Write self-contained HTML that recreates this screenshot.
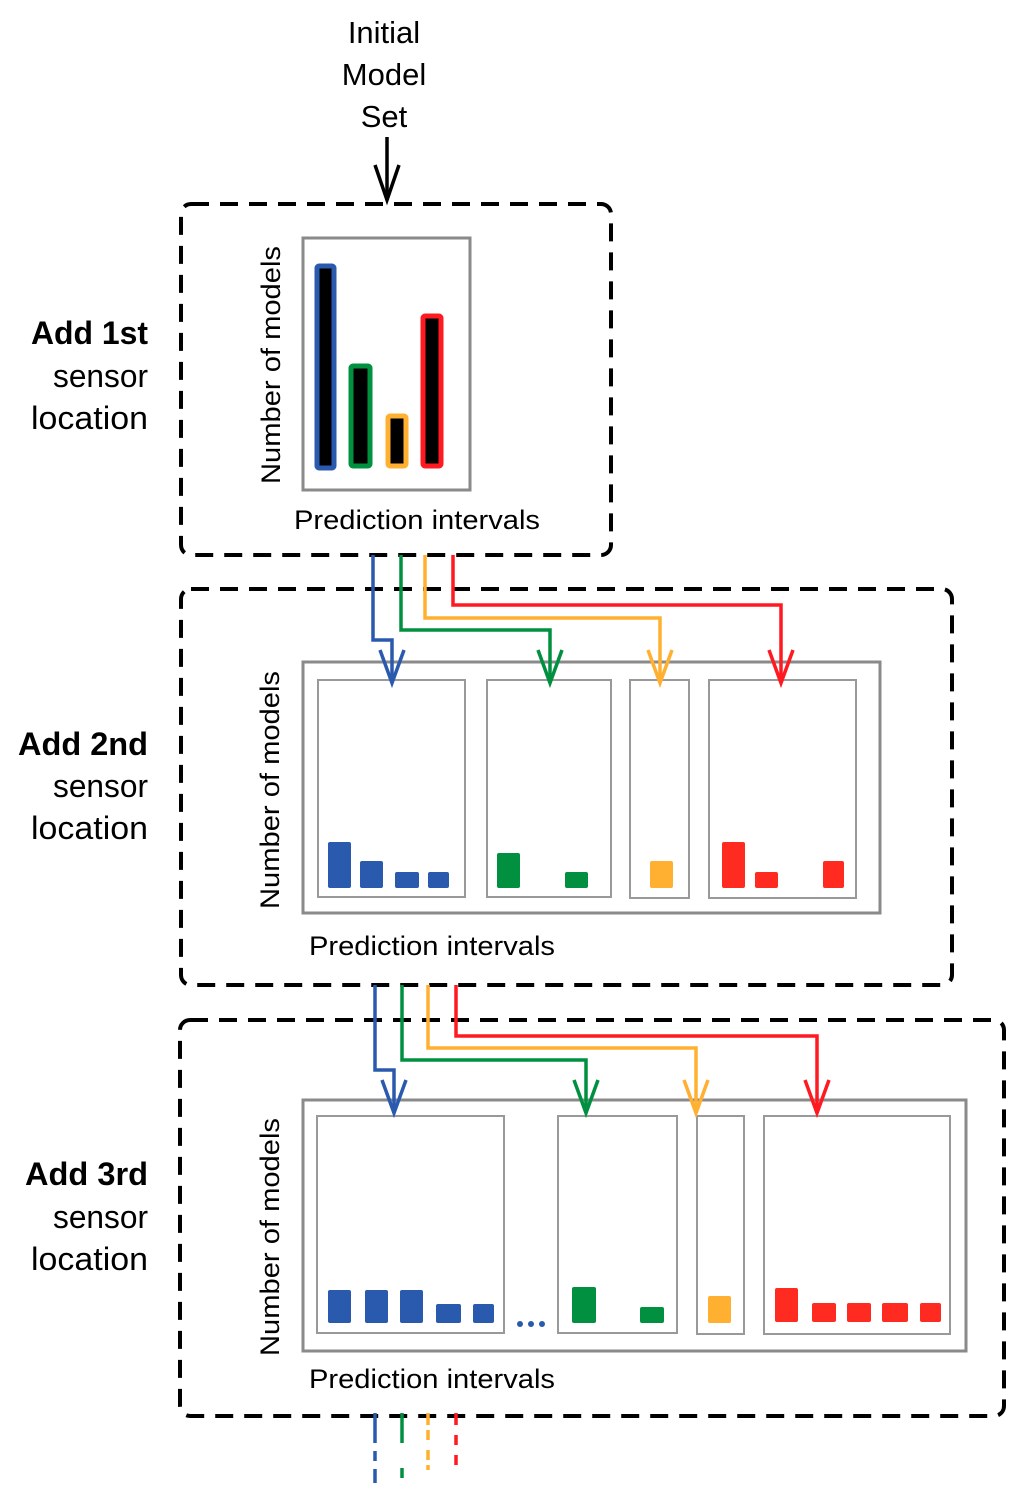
<!DOCTYPE html>
<html><head><meta charset="utf-8"><style>html,body{margin:0;padding:0;background:#fff}svg{display:block}</style></head>
<body>
<svg width="1024" height="1500" viewBox="0 0 1024 1500" xmlns="http://www.w3.org/2000/svg" font-family="Liberation Sans, DejaVu Sans, sans-serif">
<g fill="#000" font-size="31" text-anchor="middle">
<text x="384" y="43">Initial</text><text x="384" y="85">Model</text><text x="384" y="127">Set</text>
</g>
<g stroke="#000" stroke-width="3.5" fill="none">
<line x1="387" y1="137" x2="387" y2="200"/><polyline points="375,165 387,200 399,165"/>
</g>
<g fill="none" stroke="#000" stroke-width="4" stroke-dasharray="18,11">
<rect x="181" y="204" width="430" height="351" rx="10"/>
<rect x="181" y="589" width="771" height="396" rx="10"/>
<rect x="180" y="1020" width="824" height="396" rx="10"/>
</g>
<g font-size="32" text-anchor="end" fill="#000">
<text x="148" y="344" font-weight="bold" textLength="117" lengthAdjust="spacingAndGlyphs">Add 1st</text><text x="148" y="387" textLength="95" lengthAdjust="spacingAndGlyphs">sensor</text><text x="148" y="429" textLength="117" lengthAdjust="spacingAndGlyphs">location</text>
<text x="148" y="755" font-weight="bold" textLength="130" lengthAdjust="spacingAndGlyphs">Add 2nd</text><text x="148" y="797" textLength="95" lengthAdjust="spacingAndGlyphs">sensor</text><text x="148" y="839" textLength="117" lengthAdjust="spacingAndGlyphs">location</text>
<text x="148" y="1185" font-weight="bold" textLength="123" lengthAdjust="spacingAndGlyphs">Add 3rd</text><text x="148" y="1228" textLength="95" lengthAdjust="spacingAndGlyphs">sensor</text><text x="148" y="1270" textLength="117" lengthAdjust="spacingAndGlyphs">location</text>
</g>
<g font-size="27" fill="#000">
<text transform="translate(280,365) rotate(-90)" text-anchor="middle" textLength="238" lengthAdjust="spacingAndGlyphs">Number of models</text>
<text transform="translate(279,790) rotate(-90)" text-anchor="middle" textLength="238" lengthAdjust="spacingAndGlyphs">Number of models</text>
<text transform="translate(279,1237) rotate(-90)" text-anchor="middle" textLength="238" lengthAdjust="spacingAndGlyphs">Number of models</text>
<text x="294" y="529" textLength="246" lengthAdjust="spacingAndGlyphs">Prediction intervals</text>
<text x="309" y="955" textLength="246" lengthAdjust="spacingAndGlyphs">Prediction intervals</text>
<text x="309" y="1388" textLength="246" lengthAdjust="spacingAndGlyphs">Prediction intervals</text>
</g>
<rect x="303" y="238" width="167" height="252" fill="#fff" stroke="#8a8a8a" stroke-width="3"/>
<g stroke-width="5">
<rect x="317" y="266" width="17" height="202" rx="2" fill="#000" stroke="#2a5aad"/>
<rect x="351" y="366" width="19" height="100" rx="2" fill="#000" stroke="#009040"/>
<rect x="388" y="416" width="18" height="50" rx="2" fill="#000" stroke="#ffb030"/>
<rect x="423" y="316" width="18" height="150" rx="2" fill="#000" stroke="#ff1a22"/>
</g>
<rect x="303" y="662" width="577" height="251" fill="#fff" stroke="#8a8a8a" stroke-width="3"/>
<g fill="none" stroke="#999" stroke-width="2">
<rect x="318" y="680" width="147" height="217"/><rect x="487" y="680" width="124" height="217"/>
<rect x="630" y="680" width="59" height="218"/><rect x="709" y="680" width="147" height="218"/>
</g>
<g fill="#2a5aad"><rect x="328" y="842" width="23" height="46" rx="2"/><rect x="360" y="861" width="23" height="27" rx="2"/><rect x="395" y="872" width="24" height="16" rx="2"/><rect x="428" y="872" width="21" height="16" rx="2"/></g>
<g fill="#009040"><rect x="497" y="853" width="23" height="35" rx="2"/><rect x="565" y="872" width="23" height="16" rx="2"/></g>
<rect x="650" y="861" width="23" height="27" rx="2" fill="#ffb030"/>
<g fill="#ff2a20"><rect x="722" y="842" width="23" height="46" rx="2"/><rect x="755" y="872" width="23" height="16" rx="2"/><rect x="823" y="861" width="21" height="27" rx="2"/></g>
<rect x="303" y="1100" width="663" height="251" fill="#fff" stroke="#8a8a8a" stroke-width="3"/>
<g fill="none" stroke="#999" stroke-width="2">
<rect x="317" y="1116" width="187" height="217"/><rect x="558" y="1116" width="119" height="217"/>
<rect x="697" y="1116" width="47" height="218"/><rect x="764" y="1116" width="186" height="218"/>
</g>
<g fill="#2a5aad"><rect x="328" y="1290" width="23" height="33" rx="2"/><rect x="365" y="1290" width="23" height="33" rx="2"/><rect x="400" y="1290" width="23" height="33" rx="2"/><rect x="436" y="1304" width="25" height="19" rx="2"/><rect x="473" y="1304" width="21" height="19" rx="2"/>
<circle cx="520" cy="1324" r="3"/><circle cx="531" cy="1324" r="3"/><circle cx="542" cy="1324" r="3"/></g>
<g fill="#009040"><rect x="572" y="1287" width="24" height="36" rx="2"/><rect x="640" y="1307" width="24" height="16" rx="2"/></g>
<rect x="708" y="1296" width="23" height="27" rx="2" fill="#ffb030"/>
<g fill="#ff2a20"><rect x="775" y="1288" width="23" height="34" rx="2"/><rect x="812" y="1303" width="24" height="19" rx="2"/><rect x="847" y="1303" width="24" height="19" rx="2"/><rect x="882" y="1303" width="26" height="19" rx="2"/><rect x="920" y="1303" width="21" height="19" rx="2"/></g>
<g fill="none" stroke-width="3.5">
<g stroke="#2a5aad"><polyline points="373,555 373,640 392,640 392,683"/><polyline points="380,650 392,683 404,650"/></g>
<g stroke="#009040"><polyline points="401,555 401,630 550,630 550,683"/><polyline points="538,650 550,683 562,650"/></g>
<g stroke="#ffb030"><polyline points="425,555 425,618 660,618 660,683"/><polyline points="648,650 660,683 672,650"/></g>
<g stroke="#ff1a22"><polyline points="453,555 453,605 781,605 781,683"/><polyline points="769,650 781,683 793,650"/></g>
</g>
<g fill="none" stroke-width="3.5">
<g stroke="#2a5aad"><polyline points="375,985 375,1070 394,1070 394,1113"/><polyline points="382,1080 394,1113 406,1080"/></g>
<g stroke="#009040"><polyline points="402,985 402,1060 586,1060 586,1113"/><polyline points="574,1080 586,1113 598,1080"/></g>
<g stroke="#ffb030"><polyline points="428,985 428,1048 696,1048 696,1113"/><polyline points="684,1080 696,1113 708,1080"/></g>
<g stroke="#ff1a22"><polyline points="456,985 456,1036 817,1036 817,1113"/><polyline points="805,1080 817,1113 829,1080"/></g>
</g>
<g fill="none" stroke-width="3.5">
<line x1="375" y1="1413" x2="375" y2="1483" stroke="#2a5aad" stroke-dasharray="30,8,10,8"/>
<line x1="402" y1="1413" x2="402" y2="1478" stroke="#009040" stroke-dasharray="30,25,10,8"/>
<line x1="428" y1="1413" x2="428" y2="1470" stroke="#ffb030" stroke-dasharray="12,5,10,10,10,5"/>
<line x1="456" y1="1413" x2="456" y2="1465" stroke="#ff1a22" stroke-dasharray="12,10,10,10,10"/>
</g>
</svg>
</body></html>
